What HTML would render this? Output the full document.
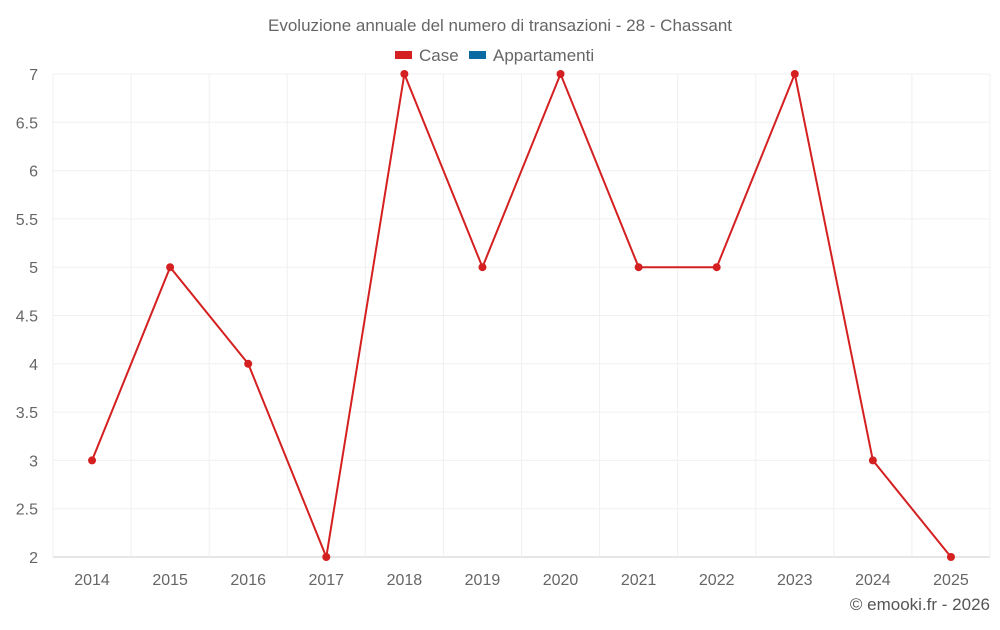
<!DOCTYPE html>
<html><head><meta charset="utf-8"><style>
body{margin:0;background:#fff;font-family:"Liberation Sans",sans-serif;}
svg text{font-family:"Liberation Sans",sans-serif;}
</style></head><body>
<svg id="chart" width="1000" height="625">
<text x="500" y="31" text-anchor="middle" font-size="17" fill="#666">Evoluzione annuale del numero di transazioni - 28 - Chassant</text>
<g>
<g><rect x="395" y="51" width="17" height="8" fill="#d42020"/><text x="419" y="61" font-size="17" fill="#666">Case</text></g>
<g><rect x="469" y="51" width="17" height="8" fill="#0a6aa1"/><text x="493" y="61" font-size="17" fill="#666">Appartamenti</text></g>
</g>
<g id="grid"></g>
<g id="axes"></g>
<g id="series"></g>
<text x="990" y="610" text-anchor="end" font-size="17" fill="#555">© emooki.fr - 2026</text>
</svg>
<script>
const categories=["2014","2015","2016","2017","2018","2019","2020","2021","2022","2023","2024","2025"];
const caseValues=[3,5,4,2,7,5,7,5,5,7,3,2];
const yTicks=[2,2.5,3,3.5,4,4.5,5,5.5,6,6.5,7];
const L=53,R=990,T=74,B=557,yMin=2,yMax=7;
const NS="http://www.w3.org/2000/svg";
const bw=(R-L)/categories.length;
const x=i=>L+bw*(i+0.5);
const y=v=>B-(v-yMin)/(yMax-yMin)*(B-T);
function mk(tag,attrs,parent){const e=document.createElementNS(NS,tag);for(const k in attrs)e.setAttribute(k,attrs[k]);parent.appendChild(e);return e;}
const grid=document.getElementById('grid'),axes=document.getElementById('axes'),series=document.getElementById('series');
yTicks.forEach(t=>{
  const l=mk('line',{x1:L,x2:R,y1:y(t),y2:y(t),stroke:t===yMin?'#ccc':'#f0f0f0'},grid);
  
  
  const tx=mk('text',{x:38,y:y(t)+6,'text-anchor':'end','font-size':16,fill:'#666'},axes);
  tx.textContent=String(t);
  
  
});
for(let i=0;i<=categories.length;i++){
  const l=mk('line',{x1:L+bw*i,x2:L+bw*i,y1:T,y2:B,stroke:'#f0f0f0'},grid);
  
  
}
categories.forEach((c,i)=>{
  const tx=mk('text',{x:x(i),y:B+28,'text-anchor':'middle','font-size':16,fill:'#666'},axes);
  tx.textContent=c;
  
  
});
const pts=caseValues.map((v,i)=>x(i)+','+y(v)).join(' ');
const pl=mk('polyline',{points:pts,fill:'none',stroke:'#d42020','stroke-width':2},series);


caseValues.forEach((v,i)=>{
  const c=mk('circle',{cx:x(i),cy:y(v),r:4,fill:'#d42020'},series);
  
  
});
</script>
</body></html>
